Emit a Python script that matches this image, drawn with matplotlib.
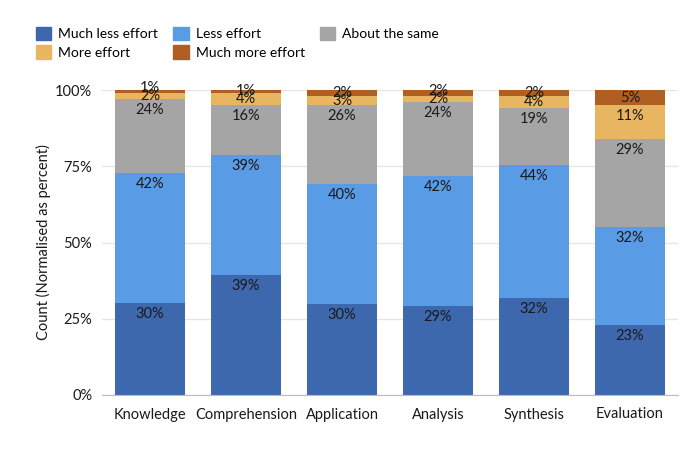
import matplotlib
matplotlib.use("Agg")
import matplotlib.pyplot as plt
import numpy as np
from matplotlib.patches import Patch

plt.rcParams['font.family'] = ['Lato', 'DejaVu Sans']

# data ------------------------------------------------------------
categories = ["Knowledge", "Comprehension", "Application", "Analysis", "Synthesis", "Evaluation"]
series_names = ["Much less effort", "Less effort", "About the same", "More effort", "Much more effort"]
much_less = [30, 39, 30, 29, 32, 23]
less = [42, 39, 40, 42, 44, 32]
same = [24, 16, 26, 24, 19, 29]
more = [2, 4, 3, 2, 4, 11]
much_more = [1, 1, 2, 2, 2, 5]
colors = ["#3e68ae", "#5a9be6", "#a5a5a5", "#e8b661", "#b15e22"]
yticks = [0, 25, 50, 75, 100]
# -----------------------------------------------------------------

raw = np.array([much_less, less, same, more, much_more], dtype=float)
norm = raw / raw.sum(axis=0) * 100

fig = plt.figure(figsize=(7, 4.5), dpi=100)
ax = fig.add_axes([102 / 700, 55 / 450, 576 / 700, 305 / 450])

x = np.arange(len(categories))
bottom = np.zeros(len(categories))
px = 305 / 100  # pixels per percent
for i, name in enumerate(series_names):
    ax.bar(x, norm[i], 0.72, bottom=bottom, color=colors[i], zorder=2)
    bottom += norm[i]

# labels: near top inside for big segments, centred for small, then pushed apart
for j in range(len(categories)):
    tops = np.cumsum(norm[:, j])
    bots = tops - norm[:, j]
    pos = []
    for i in range(len(series_names)):
        h = norm[i, j] * px
        if h >= 22:
            pos.append(tops[i] - 11 / px)
        else:
            pos.append((tops[i] + bots[i]) / 2)
    for i in range(1, len(pos)):
        if pos[i] - pos[i - 1] < 8 / px:
            pos[i] = pos[i - 1] + 8 / px
    for i in range(len(series_names)):
        ax.text(x[j], pos[i], f"{int(raw[i, j])}%", ha='center', va='center',
                fontsize=10.5, color='#1a1a1a', zorder=3)

ax.set_xlim(-0.5, len(categories) - 0.5)
ax.set_ylim(0, 100)
ax.set_yticks(yticks)
ax.set_yticklabels([f"{t}%" for t in yticks])
ax.set_xticks(x)
ax.set_xticklabels(categories)
ax.tick_params(axis='both', length=0, labelsize=10.5, colors='#1a1a1a')
ax.tick_params(axis='x', pad=9)
ax.tick_params(axis='y', pad=7)
ax.yaxis.grid(True, color='#e6e6e6', linewidth=1, zorder=0)
ax.set_axisbelow(True)
for s in ['top', 'right', 'left']:
    ax.spines[s].set_visible(False)
ax.spines['bottom'].set_color('#bbbbbb')
ax.spines['bottom'].set_zorder(4)

ax.set_ylabel("Count (Normalised as percent)", fontsize=10.5, color='#1a1a1a')
ax.yaxis.set_label_coords(-0.088, 0.5)

handles = [Patch(color=c) for c in colors]
order = [0, 3, 1, 4, 2]
fig.legend([handles[k] for k in order], [series_names[k] for k in order],
           loc='upper left', bbox_to_anchor=(36 / 700, 1 - 27 / 450), ncol=3,
           frameon=False, fontsize=10, handlelength=1.1, handleheight=1.1,
           handletextpad=0.5, labelspacing=0.35, columnspacing=1.1, borderpad=0,
           borderaxespad=0)

fig.savefig("out.png", dpi=100)
